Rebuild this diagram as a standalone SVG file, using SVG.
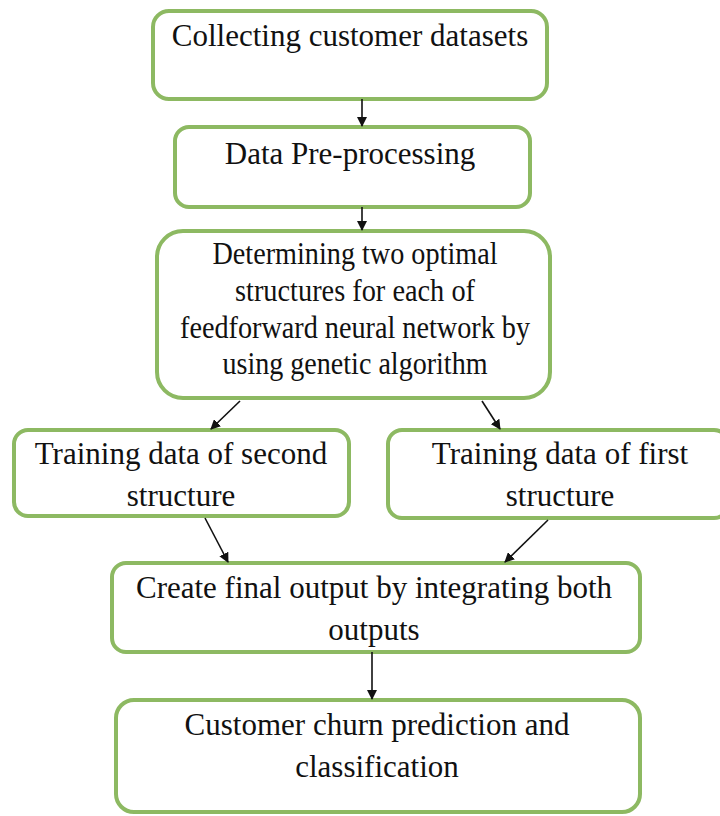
<svg xmlns="http://www.w3.org/2000/svg" width="720" height="816" viewBox="0 0 720 816">
<style>
.box{fill:#fff;stroke:#8db962;stroke-width:4;}
.t{font-family:"Liberation Serif",serif;font-size:31px;fill:#111;text-anchor:middle;}
.c{stroke:#111;stroke-width:1.6;fill:none;marker-end:url(#ah);}
</style>
<defs>
<marker id="ah" viewBox="0 0 10 10" refX="9" refY="5" markerWidth="10" markerHeight="10" markerUnits="userSpaceOnUse" orient="auto">
<path d="M0,0 L10,5 L0,10 z" fill="#111"/>
</marker>
</defs>
<rect width="720" height="816" fill="#fff"/>
<g id="n1"><rect class="box" x="153" y="11" width="394" height="88" rx="16"/>
<text class="t" x="350" y="46">Collecting customer datasets</text></g>
<g id="n2"><rect class="box" x="175" y="127" width="355" height="80" rx="14"/>
<text class="t" x="350" y="164">Data Pre-processing</text></g>
<g id="n3"><rect class="box" x="157" y="231" width="393" height="167" rx="26"/>
<text class="t" x="355" y="264" textLength="285" lengthAdjust="spacingAndGlyphs">Determining two optimal</text>
<text class="t" x="355" y="301" textLength="240" lengthAdjust="spacingAndGlyphs">structures for each of</text>
<text class="t" x="355" y="338" textLength="350" lengthAdjust="spacingAndGlyphs">feedforward neural network by</text>
<text class="t" x="355" y="374" textLength="265" lengthAdjust="spacingAndGlyphs">using genetic algorithm</text></g>
<g id="n4"><rect class="box" x="14" y="430" width="335" height="86" rx="14"/>
<text class="t" x="181" y="464">Training data of second</text>
<text class="t" x="181" y="506">structure</text></g>
<g id="n5"><rect class="box" x="388" y="430" width="340" height="88" rx="14"/>
<text class="t" x="560" y="464">Training data of first</text>
<text class="t" x="560" y="506">structure</text></g>
<g id="n6"><rect class="box" x="112" y="563" width="528" height="89" rx="14"/>
<text class="t" x="374" y="598">Create final output by integrating both</text>
<text class="t" x="374" y="640">outputs</text></g>
<g id="n7"><rect class="box" x="116" y="700" width="524" height="112" rx="18"/>
<text class="t" x="377" y="735">Customer churn prediction and</text>
<text class="t" x="377" y="777">classification</text></g>
<g id="connectors">
<line class="c" x1="362" y1="99" x2="362" y2="126"/>
<line class="c" x1="362" y1="207" x2="362" y2="230"/>
<line class="c" x1="240" y1="401" x2="211" y2="429"/>
<line class="c" x1="482" y1="401" x2="500" y2="429"/>
<line class="c" x1="205" y1="518" x2="228" y2="562"/>
<line class="c" x1="548" y1="520" x2="505" y2="562"/>
<line class="c" x1="372" y1="652" x2="372" y2="699"/>
</g>
</svg>
